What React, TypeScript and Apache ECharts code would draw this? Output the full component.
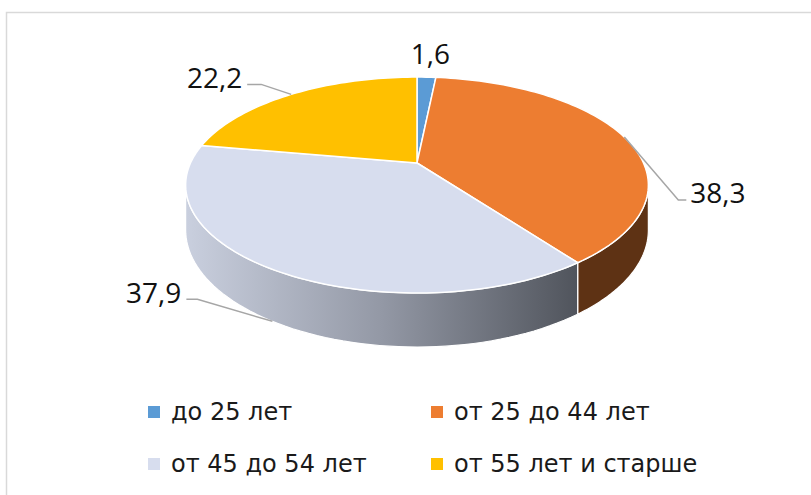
import React, { useEffect, useRef } from "react";
import * as echarts from "echarts";

const categories = ["до 25 лет", "от 25 до 44 лет", "от 45 до 54 лет", "от 55 лет и старше"];
const values = [1.6, 38.3, 37.9, 22.2];
const valueLabels = ["1,6", "38,3", "37,9", "22,2"];
const colors = ["#5b9bd5", "#ed7d31", "#d7ddee", "#ffc000"];

// perspective geometry of the 3D pie
const G = { cx: 417, cy: 163, rx: 226.5, ry: 103.5, k: 0.204, depth: 43 };

const total = values.reduce((a, b) => a + b, 0);
const starts: number[] = [];
values.reduce((acc, v, i) => {
  starts[i] = (acc / total) * Math.PI * 2;
  return acc + v;
}, 0);

function proj(theta: number, h: number): number[] {
  const c = Math.cos(theta);
  const s = Math.sin(theta);
  const f = 1 / (1 + G.k * c);
  return [G.cx + G.rx * s * f, G.cy - G.ry * c * f + h * G.depth * f];
}

const wallFills: any[] = [
  "#2f5f8a",
  "#5e3214",
  {
    type: "linear",
    x: 187,
    y: 0,
    x2: 578,
    y2: 0,
    global: true,
    colorStops: [
      { offset: 0, color: "#c9cfde" },
      { offset: 0.5, color: "#9398a5" },
      { offset: 1, color: "#50545c" },
    ],
  },
  "#9a7400",
];

// label placement relative to each slice's anchor (mid-angle, top or bottom edge)
const labelLayout = [
  { edge: 0, dx: 4, dy: -24, align: "center", leader: null as null | number[][] },
  { edge: 0, dx: 66, dy: 55, align: "left", leader: [[-12, 8], [-4, 8]] },
  { edge: 1, dx: -91, dy: -29, align: "right", leader: [[16, 7], [5, 7]] },
  { edge: 0, dx: -49, dy: -17, align: "right", leader: [[19, 7], [5, 7]] },
];

const LABEL_FONT = "'Open Sans', sans-serif";
const LEGEND_FONT = "'DejaVu Sans', sans-serif";

export default function App() {
  const ref = useRef<HTMLDivElement>(null);
  useEffect(() => {
    const chart = echarts.init(ref.current!, null, { renderer: "svg" });
    const lo = Math.acos(-G.k);
    const hi = Math.PI * 2 - lo;

    const wallSeries: any = {
      type: "custom",
      coordinateSystem: "none",
      silent: true,
      z: 1,
      data: values.map((v) => [v]),
      renderItem: (params: any, api: any) => {
        const i = params.dataIndex;
        const a0 = starts[i];
        const a1 = a0 + (api.value(0) / total) * Math.PI * 2;
        const b0 = Math.max(a0, lo);
        const b1 = Math.min(a1, hi);
        if (b1 <= b0) return null;
        const n = 60;
        const pts: number[][] = [];
        for (let j = 0; j <= n; j++) pts.push(proj(b0 + ((b1 - b0) * j) / n, 0));
        for (let j = n; j >= 0; j--) pts.push(proj(b0 + ((b1 - b0) * j) / n, 1));
        return {
          type: "polygon",
          shape: { points: pts },
          style: { fill: wallFills[i], stroke: "#ffffff", lineWidth: 1.2 },
        };
      },
    };

    const topSeries: any[] = categories.map((name, i) => ({
      type: "custom",
      name,
      coordinateSystem: "none",
      silent: true,
      z: 2,
      itemStyle: { color: colors[i] },
      data: [[values[i]]],
      renderItem: (_params: any, api: any) => {
        const a0 = starts[i];
        const a1 = a0 + (api.value(0) / total) * Math.PI * 2;
        const n = Math.max(4, Math.ceil(((a1 - a0) / (Math.PI * 2)) * 240));
        const pts: number[][] = [[G.cx, G.cy]];
        for (let j = 0; j <= n; j++) pts.push(proj(a0 + ((a1 - a0) * j) / n, 0));
        return {
          type: "polygon",
          shape: { points: pts },
          style: { fill: colors[i], stroke: "#ffffff", lineWidth: 1.5, lineJoin: "round" },
        };
      },
    }));

    const labelSeries: any = {
      type: "custom",
      coordinateSystem: "none",
      silent: true,
      z: 3,
      data: values.map((v) => [v]),
      renderItem: (params: any, api: any) => {
        const i = params.dataIndex;
        const mid = starts[i] + (api.value(0) / total) * Math.PI;
        const L = labelLayout[i];
        const anchor = proj(mid, L.edge);
        const lx = anchor[0] + L.dx;
        const ly = anchor[1] + L.dy;
        const children: any[] = [];
        if (L.leader) {
          children.push({
            type: "polyline",
            shape: {
              points: [anchor, [lx + L.leader[0][0], ly + L.leader[0][1]], [lx + L.leader[1][0], ly + L.leader[1][1]]],
            },
            style: { stroke: "#a6a6a6", lineWidth: 1.5, fill: "none" },
          });
        }
        children.push({
          type: "text",
          x: lx,
          y: ly,
          style: {
            text: valueLabels[i],
            fill: "#111111",
            fontSize: 28,
            fontFamily: LABEL_FONT,
            align: L.align,
            verticalAlign: "middle",
          },
        });
        return { type: "group", children };
      },
    };

    const legendBase = {
      orient: "vertical",
      top: 399,
      padding: 0,
      icon: "rect",
      itemWidth: 12,
      itemHeight: 12,
      itemGap: 26,
      selectedMode: false,
      textStyle: {
        fontSize: 24,
        lineHeight: 26,
        fontFamily: LEGEND_FONT,
        color: "#1a1a1a",
        padding: [0, 0, 0, 6],
      },
    };

    chart.setOption({
      animation: false,
      backgroundColor: "#ffffff",
      legend: [
        { ...legendBase, left: 148, data: [categories[0], categories[2]] },
        { ...legendBase, left: 431, data: [categories[1], categories[3]] },
      ],
      graphic: [
        {
          type: "rect",
          shape: { x: 6.5, y: 12.5, width: 840, height: 520 },
          style: { fill: "none", stroke: "#d9d9d9", lineWidth: 1.5 },
          silent: true,
          z: 0,
        },
      ],
      series: [wallSeries, ...topSeries, labelSeries],
    });
    return () => chart.dispose();
  }, []);
  return <div ref={ref} style={{ position: "fixed", left: 0, top: 0, width: 811, height: 495 }} />;
}
